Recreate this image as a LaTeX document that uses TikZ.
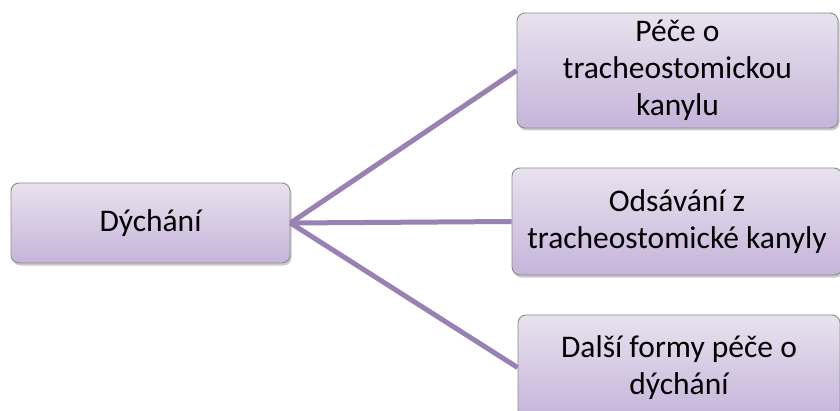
\documentclass[tikz,border=0pt]{standalone}
\usepackage{fontspec}
\setmainfont{Carlito}
\usetikzlibrary{shadows}
\definecolor{boxtop}{HTML}{E8E2EE}
\definecolor{boxbot}{HTML}{C6B4DA}
\definecolor{boxline}{HTML}{8C8C8C}
\definecolor{linkcol}{HTML}{9782B3}
\tikzset{
  box/.style={draw=boxline, line width=0.9pt, rounded corners=8pt,
    top color=boxtop, bottom color=boxbot, align=center,
    inner sep=0pt, anchor=center,
    drop shadow={shadow xshift=1.5pt, shadow yshift=-2.5pt, opacity=0.35, fill=black!60},
    font=\fontsize{31.5}{37}\selectfont},
  link/.style={draw=linkcol, line width=5pt}
}
\begin{document}
\begin{tikzpicture}[x=1pt,y=1pt]
\useasboundingbox (0,0) rectangle (840,410);
\node[box, minimum width=279pt, minimum height=80pt] (L) at (150.5,187) {Dýchání};
\node[box, minimum width=321pt, minimum height=115pt] (T) at (677.5,339.5) {Péče o\\tracheostomickou\\kanylu};
\node[box, minimum width=330pt, minimum height=107pt] (M) at (677,188.5) {Odsávání z\\tracheostomické kanyly};
\node[box, minimum width=322pt, minimum height=105pt] (B) at (679,42.5) {Další formy péče o\\dýchání};
\draw[link] (L.east) -- (T.west);
\draw[link] (L.east) -- (M.west);
\draw[link] (L.east) -- (B.west);
\end{tikzpicture}
\end{document}
